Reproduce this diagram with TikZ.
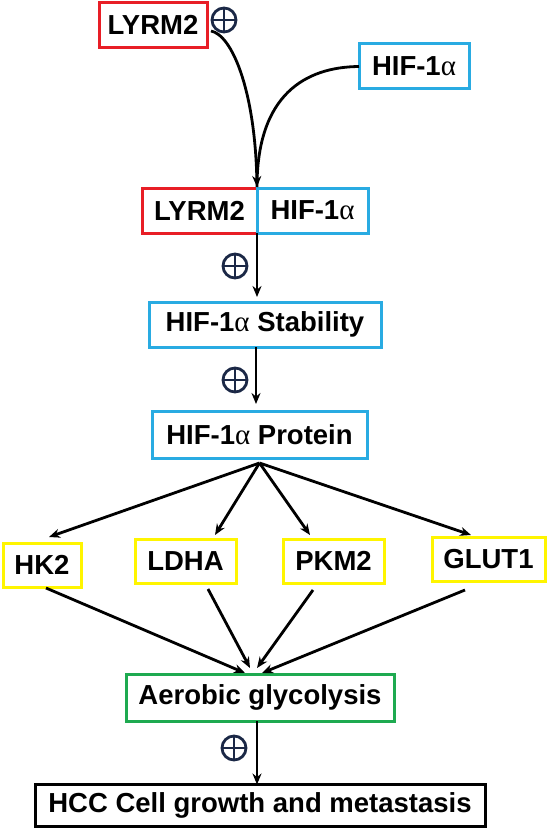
\documentclass[tikz,border=0pt]{standalone}
\usepackage{fontspec}
\setmainfont{Liberation Sans}
\newfontfamily\greekfont{Liberation Serif}
\usetikzlibrary{arrows.meta,positioning,calc}
\newcommand{\halpha}{{\greekfont\mdseries\fontsize{29}{30}\selectfont α}}
\definecolor{boxred}{RGB}{232,30,38}
\definecolor{boxcyan}{RGB}{41,171,226}
\definecolor{boxyellow}{RGB}{255,245,0}
\definecolor{boxgreen}{RGB}{30,170,80}
\definecolor{plusnavy}{RGB}{27,40,70}

\begin{document}
\begin{tikzpicture}[x=1pt, y=-1pt, >={Stealth[length=11pt,width=9pt]},
    font=\fontsize{27.5}{30}\selectfont\bfseries,
    box/.style={draw, rectangle, line width=3pt, inner sep=0pt, outer sep=0pt, minimum height=45pt},
    link/.style={line width=2.8pt},
    plus/.style={circle, draw=plusnavy, line width=2.8pt, minimum size=24pt, inner sep=0pt,
        path picture={\draw[plusnavy, line width=2.8pt]
            (path picture bounding box.north) -- (path picture bounding box.south)
            (path picture bounding box.west) -- (path picture bounding box.east);}}]
            \useasboundingbox (0,0) rectangle (549,829);

            \node[box, draw=boxred, minimum width=108pt] (lyrm) at (153,25) {LYRM2};
            \node[box, draw=boxcyan, minimum width=110pt] (hif) at (414,66.5) {HIF-1\halpha};
            \node[box, draw=boxred, minimum width=115pt] (cplxl) at (199.5,210.5) {LYRM2};
            \node[box, draw=boxcyan, minimum width=111pt, right=0pt of cplxl] (cplxr) {HIF-1\halpha};
            \node[box, draw=boxcyan, minimum width=232pt] (stab) at (265,324.5) {HIF-1\halpha{} Stability};
            \node[box, draw=boxcyan, minimum width=215pt, minimum height=47pt] (prot) at (259.5,434.5) {HIF-1\halpha{} Protein};
            \node[box, draw=boxyellow, minimum width=78pt, minimum height=44pt] (hk2) at (42,565) {HK2};
            \node[box, draw=boxyellow, minimum width=101pt, minimum height=44pt] (ldha) at (185.5,561) {LDHA};
            \node[box, draw=boxyellow, minimum width=101pt, minimum height=44pt] (pkm2) at (333.5,561) {PKM2};
            \node[box, draw=boxyellow, minimum width=113pt, minimum height=44pt] (glut1) at (488.5,559) {GLUT1};
            \node[box, draw=boxgreen, minimum width=268pt, minimum height=47pt] (aero) at (260,697.5) {Aerobic glycolysis};
            \node[box, draw=black, minimum width=450pt, minimum height=42pt] (hcc) at (260,805.5) {HCC Cell growth and metastasis};

            \node[plus] (p1) at (224,20) {};
            \node[plus] (p2) at (235,266) {};
            \node[plus] (p3) at (235,380) {};
            \node[plus] (p4) at (234,748) {};

            \coordinate (meet) at ([yshift=1pt]cplxl.north east);
            \coordinate (fan) at ([yshift=-5pt]prot.south);

            \draw[link, ->] ([xshift=4pt,yshift=-6pt]lyrm.east) .. controls (232,35) and (255,90) .. (meet);
            \draw[link] (hif.west) .. controls (305,67) and (257,95) .. (meet);
            \draw[link, ->] (cplxl.south east) -- ([yshift=5pt]cplxl.south east |- stab.north);
            \draw[link, ->] ([xshift=-9pt]stab.south) -- ([xshift=-9pt,yshift=7pt]stab.south |- prot.north);

            \draw[link, ->] (fan) -- ([xshift=7pt,yshift=6pt]hk2.north);
            \draw[link, ->] (fan) -- ([xshift=29.5pt,yshift=4pt]ldha.north);
            \draw[link, ->] (fan) -- ([xshift=-23.5pt,yshift=4pt]pkm2.north);
            \draw[link, ->] (fan) -- ([xshift=-17.5pt,yshift=2pt]glut1.north);

            \draw[link, ->] ([xshift=4pt,yshift=-1pt]hk2.south) -- ([xshift=-15pt,yshift=1pt]aero.north);
            \draw[link, ->] ([xshift=22.5pt,yshift=-6pt]ldha.south) -- ([xshift=-10pt,yshift=6pt]aero.north);
            \draw[link, ->] ([xshift=-20.5pt,yshift=-7pt]pkm2.south) -- ([xshift=-3pt,yshift=6pt]aero.north);
            \draw[link, ->] ([xshift=-23.5pt,yshift=-9pt]glut1.south) -- ([xshift=2pt,yshift=1pt]aero.north);

            \draw[link, ->] ([xshift=-3pt]aero.south) -- ([xshift=-3pt]aero.south |- hcc.north);
        \end{tikzpicture}
\end{document}
